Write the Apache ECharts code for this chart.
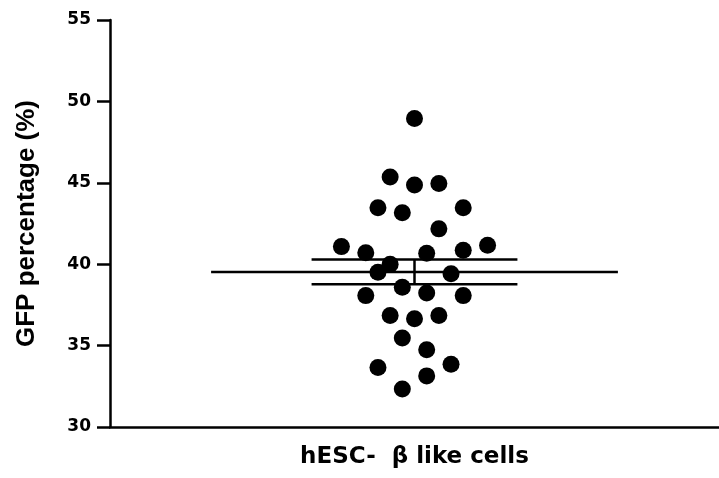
<!DOCTYPE html>
<html>
<head>
<meta charset="utf-8">
<script src="https://cdn.jsdelivr.net/npm/echarts@6/dist/echarts.min.js"></script>
<style>
html,body{margin:0;padding:0;background:#fff;}
#chart{width:719px;height:478px;}
</style>
</head>
<body>
<div id="chart"></div>
<script>
// Category and tick labels
var categories = ['hESC-  β like cells'];
var yTicks = [30, 35, 40, 45, 50, 55];
// GFP percentage values
var gfpValues = [48.95, 45.35, 44.86, 44.96, 43.47, 43.16, 43.47, 42.17, 41.08, 40.70,
                 40.67, 40.86, 41.16, 39.99, 39.50, 39.42, 38.58, 38.07, 38.23, 38.07,
                 36.85, 36.65, 36.85, 35.46, 34.74, 33.65, 33.86, 33.14, 32.34];
// horizontal scatter offsets (dot-plot jitter, in dot-spacing units)
var jitter = [0, -2, 0, 2, -3, -1, 4, 2, -6, -4,
              1, 4, 6, -2, -3, 3, -1, -4, 1, 4,
              -2, 0, 2, -1, 1, -3, 3, 1, -1];
// error bar half-widths (in the same units as jitter)
var meanHalfWidth = 16.7;
var semHalfWidth = 8.45;

var n = gfpValues.length;
var mean = gfpValues.reduce(function(a,b){return a+b;},0)/n;
var sd = Math.sqrt(gfpValues.reduce(function(a,b){return a+(b-mean)*(b-mean);},0)/(n-1));
var sem = sd/Math.sqrt(n);

var pts = gfpValues.map(function(v,i){return [jitter[i], v];});

var chart = echarts.init(document.getElementById('chart'));
var lineStyle = {color:'#000', width:2.5};
function seg(data){
  return {type:'line', xAxisIndex:1, data:data, symbol:'none', lineStyle:lineStyle, silent:true, z:3, animation:false};
}
chart.setOption({
  animation:false,
  backgroundColor:'#fff',
  grid:{left:110, right:0, top:20, bottom:51},
  xAxis:[{
    type:'category', data:categories, position:'bottom',
    axisLine:{onZero:false, lineStyle:{color:'#000', width:2.5}},
    axisTick:{alignWithLabel:true, length:13, lineStyle:{color:'#000', width:2.5}},
    axisLabel:{color:'#000', fontSize:23, fontWeight:'bold', fontFamily:'DejaVu Sans', margin:19},
    splitLine:{show:false}
  },{
    type:'value', min:-25, max:25, show:false
  }],
  yAxis:{
    type:'value', min:yTicks[0], max:yTicks[yTicks.length-1], interval:5,
    axisLine:{show:true, onZero:false, lineStyle:{color:'#000', width:2.5}},
    axisTick:{show:true, length:13, lineStyle:{color:'#000', width:2.5}},
    axisLabel:{color:'#000', fontSize:17, fontWeight:'bold', fontFamily:'DejaVu Sans', margin:19},
    splitLine:{show:false},
    name:'GFP percentage (%)', nameLocation:'middle', nameGap:70,
    nameTextStyle:{color:'#000', fontSize:26, fontWeight:'bold', fontFamily:'Liberation Sans'}
  },
  series:[
    seg([[-meanHalfWidth, mean],[meanHalfWidth, mean]]),
    seg([[-semHalfWidth, mean+sem],[semHalfWidth, mean+sem]]),
    seg([[-semHalfWidth, mean-sem],[semHalfWidth, mean-sem]]),
    seg([[0, mean-sem],[0, mean+sem]]),
    {type:'scatter', xAxisIndex:1, data:pts, symbol:'circle', symbolSize:17,
     itemStyle:{color:'#000', opacity:1}, z:4}
  ]
});
</script>
</body>
</html>
